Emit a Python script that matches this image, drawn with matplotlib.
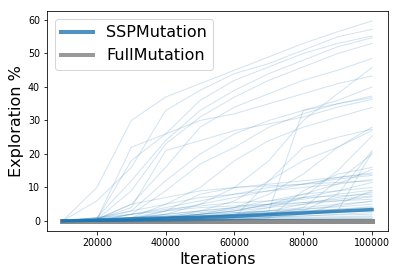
import numpy as np
import matplotlib
matplotlib.use("Agg")
import matplotlib.pyplot as plt
from matplotlib.lines import Line2D

iterations = [10000, 20000, 30000, 40000, 50000, 60000, 70000, 80000, 90000, 100000]

# individual SSPMutation runs (exploration %)
ssp_runs = [
    [0, 10, 30, 37, 41, 45, 49, 53, 56.5, 59.7],
    [0, 6, 16, 33, 39, 44, 47, 51, 55, 57.2],
    [0, 0.5, 22, 26, 36, 42, 46, 50, 53, 55.2],
    [0, 1, 12, 24, 33, 39, 44, 48, 52, 54.7],
    [0, 0.5, 9, 23, 31, 37, 42, 46, 50, 53],
    [0, 0.5, 5, 16, 28, 34, 38, 42, 45, 48.5],
    [0, 0, 0.5, 2, 5, 10, 18, 30, 38, 45.8],
    [0, 0.5, 18, 26, 30, 32, 35, 38, 41, 43.3],
    [0, 0.5, 3, 12, 20, 26, 30, 33, 35, 37.3],
    [0, 0, 2, 9, 17, 22, 28, 32, 35, 36.8],
    [0, 0.5, 4, 21, 24, 27, 29, 31, 34, 36.3],
    [0, 0, 1, 5, 10, 18, 24, 28, 31, 33.9],
    [0, 0, 0.5, 1, 2, 4, 8, 14, 22, 27],
    [0, 0, 0, 0.5, 1, 2, 4, 7, 15, 25.4],
    [0, 0, 0.5, 1, 3, 6, 12, 18, 22, 28],
    [0, 0, 0, 0.5, 1, 2, 3, 33, 36, 40],
    [0, 0, 0, 0, 0.5, 1, 1.5, 2, 3, 20.5],
    [0, 0, 0, 0, 0.5, 1, 2, 4, 12, 20],
    [0, 0, 0.5, 1, 2, 3, 5, 8, 11, 15.4],
    [0, 0.5, 1, 3, 5, 7, 9, 11, 13, 14.4],
    [0, 0, 2, 4, 6, 8, 10, 11, 12.5, 13.6],
    [0, 1, 3, 5, 7, 8, 9, 10, 11, 12.4],
    [0, 0, 0.5, 1, 2, 3, 5, 7, 9, 11.5],
    [0, 0.5, 1, 2, 3, 4, 5, 6.5, 8, 9.2],
    [0, 0, 0.5, 1, 1.5, 2, 3, 5, 7, 8.5],
    [0, 0.5, 2, 3.5, 4.5, 5.5, 6, 7, 7.5, 8],
    [0, 0, 0.5, 1, 2, 3, 4, 5, 6, 7.2],
    [0, 1, 2, 3, 4, 4.5, 5, 5.5, 6, 6.5],
    [0, 0, 0.5, 1, 1.5, 2.5, 3, 4, 5, 5.8],
    [0, 0.5, 1, 1.5, 2, 2.5, 3, 3.5, 4.2, 5],
    [0, 0, 0.5, 1, 1.5, 2, 2.5, 3, 3.5, 4.3],
    [0, 0.2, 0.5, 1, 1.3, 1.8, 2.3, 2.7, 3.2, 3.7],
    [0, 0, 0.3, 0.6, 1, 1.5, 2, 2.5, 2.8, 3.3],
    [0, 0.2, 0.4, 0.8, 1.2, 1.6, 2, 2.3, 2.6, 3],
    [0, 0, 0.2, 0.5, 0.8, 1, 1.3, 1.5, 1.8, 2],
    [0, 0, 0.1, 0.3, 0.5, 0.7, 0.9, 1.1, 1.3, 1.5],
    [0, 0, 0, 0.2, 0.3, 0.4, 0.5, 0.6, 0.7, 0.8],
    [0, 0, 0, 0.1, 0.2, 0.3, 0.4, 0.5, 0.6, 0.7],
    [0, 0, 0, 0, 0.5, 1, 12, 22, 25, 27.4],
    [0, 0, 0, 0.5, 1, 1.5, 2, 3, 8, 21],
    [0, 0, 0, 0, 0, 0.5, 1, 9, 14, 16],
    [0, 0, 0.5, 3, 8, 10, 11, 12, 13, 14],
    [0, 0.5, 5, 7, 9, 10, 10.5, 11, 11.5, 12],
    [0, 0, 1, 2, 3, 4, 6, 8, 9, 10],
    [0, 0.3, 0.8, 1.5, 2.5, 3.5, 4.5, 5.5, 6.5, 7.5],
    [0, 0, 0.3, 0.8, 1.2, 1.8, 2.5, 3.5, 4.5, 6],
    [0, 0.2, 0.6, 1, 1.5, 2, 2.5, 3, 3.5, 4],
    [0, 0, 0.2, 0.4, 0.6, 0.8, 1, 1.5, 2, 2.5],
    [0, 0, 0, 0, 0.2, 0.4, 0.6, 0.8, 1, 1.2],
    [0, 0, 0, 0, 0, 0.5, 1, 2, 5, 9],
]
ssp_median = [0, 0.3, 0.6, 0.9, 1.1, 1.4, 1.9, 2.4, 2.9, 3.4]
full_mutation = [0, 0, 0, 0, 0, 0, 0, 0, 0, 0]

fig = plt.figure(figsize=(399 / 72, 276 / 72), dpi=72)
ax = fig.add_axes([47 / 399, 45 / 276, 340.5 / 399, 220 / 276])

ax.plot(iterations, full_mutation, color="gray", lw=5, alpha=0.9)
for run in ssp_runs:
    ax.plot(iterations, run, color="tab:blue", lw=1, alpha=0.2)
ax.plot(iterations, ssp_median, color="tab:blue", lw=3.5, alpha=0.8)

handles = [Line2D([0], [0], color="tab:blue", lw=4, alpha=0.8),
           Line2D([0], [0], color="gray", lw=4, alpha=0.8)]
ax.legend(handles, ["SSPMutation", "FullMutation"], loc="upper left", fontsize=16)

ax.set_xticks([20000, 40000, 60000, 80000, 100000])
ax.set_yticks([0, 10, 20, 30, 40, 50, 60])
ax.tick_params(labelsize=9.5)
ax.set_xlabel("Iterations", fontsize=16)
ax.set_ylabel("Exploration %", fontsize=16)

fig.savefig("out.png", dpi=72)
